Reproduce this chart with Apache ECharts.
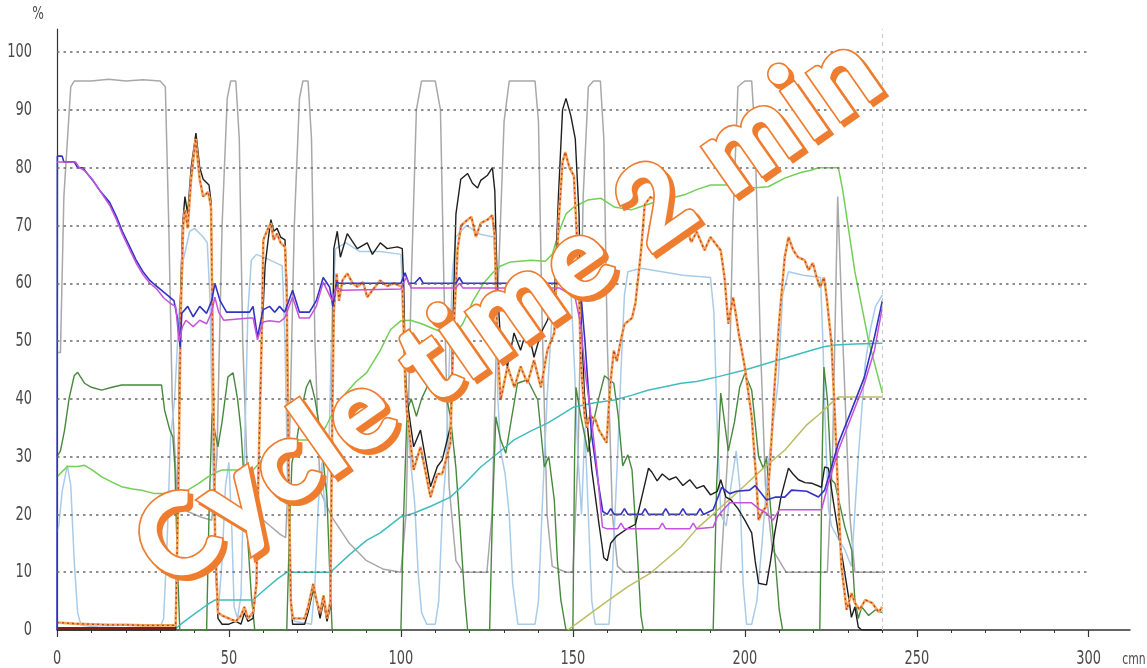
<!DOCTYPE html>
<html>
<head>
<meta charset="utf-8">
<script src="https://cdn.jsdelivr.net/npm/echarts@6/dist/echarts.min.js"></script>
<style>
  html, body { margin: 0; padding: 0; background: #fff; }
  #chart { width: 1147px; height: 668px; }
</style>
</head>
<body>
<div id="chart"></div>
<script>
// Axis ticks
const xTicks = [0, 50, 100, 150, 200, 250, 300];
const xMinorTicks = [10, 20, 30, 40, 60, 70, 80, 90, 110, 120, 130, 140, 160, 170, 180, 190, 210, 220, 230, 240, 260, 270, 280, 290];
const yTicks = [0, 10, 20, 30, 40, 50, 60, 70, 80, 90, 100];
const endMarker = 240;

// Trend series, [time, %]
const grayLine = [[0,48],[1,48],[2,75],[4,94],[5,95],[10,95],[15,95.3],[20,95],[25,95.2],[30,95],[31.5,94],[32.5,70],[33.5,40],[35,22],[38,20.5],[42,19.5],[45,19],[46.5,30],[48,70],[49.5,92],[50.5,95],[52,95],[53,85],[54,50],[55.5,24],[58,20],[62,18],[65,16.5],[66.5,16],[67.5,30],[69,70],[70.5,92],[71.5,95],[73,95],[74,85],[75,50],[76.5,24],[80,19.5],[85,15],[90,12],[95,10.5],[100,10],[101.5,20],[103,60],[104.5,90],[106,95],[110,95],[111.5,90],[112.5,60],[114,25],[116,12],[118,10],[125,10],[126.5,20],[128,55],[130,88],[131.5,95],[139,95],[140,88],[141,55],[142.5,20],[144,11],[148,10],[150,10],[151.5,30],[153,75],[154.5,94],[156,95],[158,95],[159,85],[160,50],[161.5,20],[163,11],[165,10],[193,10],[195,30],[196.5,70],[198,94],[200,95],[202,95],[203,85],[204.5,50],[206,25],[208,14],[212,10],[224,10],[225.5,30],[227,75],[228.5,50],[230.5,20],[232,10],[240,10]];

const lightBlueLine = [[0,17],[0.5,18],[1.5,24],[3,28.5],[4,25],[5,12],[6,3],[7,0.8],[12,0.5],[20,0.4],[30,0.5],[31,2],[32,15],[33,33],[34.2,40],[35.5,55],[36.7,64],[38.6,69],[40,69.5],[42.5,68],[43.7,67],[44.5,57],[45.3,30],[46.2,8],[47,4],[48,12],[49,25],[50,29],[50.8,18],[51.5,4],[52.5,2],[53.5,6],[54.5,30],[55.5,55],[56.5,64],[58,65],[62,64],[65.5,63],[66.3,50],[67.2,20],[68,5],[69,1.5],[74,1],[75,8],[76,22],[77,29],[78,20],[79,30],[80,55],[81,66],[84,67],[88,65.5],[94,65.5],[100,65],[100.8,55],[101.6,38],[103,28],[104,22],[105,10],[106,3],[107.5,1],[110,1],[111,5],[112,20],[113,28],[114,45],[115,62],[116,68],[119,70],[123,68.5],[127,68],[127.6,60],[128.2,40],[129,31],[130.3,27],[131.5,20],[132.5,8],[134,1],[139,1],[140,5],[141,20],[142.5,40],[144,55],[145.5,60],[148,61],[149.5,58],[150.5,45],[151.5,30],[152.5,20],[153.5,35],[154.5,20],[155.5,5],[156.5,1],[160.5,1],[161.5,10],[163,30],[164,45],[165,58],[166,62],[169.8,62.6],[182,61.4],[190,61],[191,55],[192,35],[193,20],[194.6,18],[196,25],[197.5,31],[198.5,25],[199.5,8],[200.5,1],[202,1],[203.5,5],[205,15],[206.7,28],[209.7,43],[211,58],[212.7,62],[217,61.4],[222,61],[222.7,50],[223.3,37],[224.3,21],[225.2,18],[227,16],[229,14],[231,11],[233,30],[235,46],[236.5,52],[238,56],[240,58]];

const darkGreenLine = [[0,30],[1,31],[2.2,34.6],[3.5,40],[5,44],[6,44.6],[8,42.7],[10,42],[13,41.5],[16,42],[18.8,42.4],[24,42.4],[30.4,42.4],[31.3,38],[32.8,34.6],[33.7,33.4],[34.3,28],[35,11.6],[35.7,0],[43.5,0],[44.2,20],[45.1,37.5],[46,34],[46.8,31.7],[48,36],[49.7,43.8],[51.2,44.5],[52.5,40],[53.5,34.6],[55,20],[56.5,6],[57.5,0],[66.8,0],[67.5,15],[68.3,28.9],[69.5,32],[71,38],[72.5,42],[73.6,43.3],[75,40],[76.5,34.6],[78.5,23],[79.3,10],[80,0],[100,0],[100.8,20],[101.8,38],[103,40],[104.5,37],[106,40],[108.6,43.3],[111.5,43.8],[113,41],[114.4,36.9],[116,28],[117.3,16.8],[118.5,6],[119.4,0],[125.8,0],[126.6,20],[127.6,36.9],[129,32.9],[130.5,30.6],[132,36],[133.9,42.7],[136.8,43.3],[139.8,39.8],[141.7,28.2],[143,30],[144.6,22.5],[145.5,12],[146.5,5.2],[148,0],[150,0],[150.5,30],[150.9,42],[152.3,37],[154.4,30.8],[156,36],[157.6,40.3],[159.2,44],[161.9,42.7],[163.2,37],[164.5,28.4],[166,30.3],[167.2,27.7],[168.7,13.8],[169.8,2.5],[170.5,0],[190.8,0],[191.8,25],[193,41],[195.2,31],[197,36],[198.5,42],[200,44.4],[202,41.5],[204,30],[205.4,28],[206.3,29.8],[207.7,19.6],[209,11],[210,3.5],[211,0],[221.8,0],[222.5,30],[223,45.5],[224,40],[225.2,26],[226.2,25.4],[229.1,17.8],[231.1,13.8],[232,5.2],[233,2],[234,4],[236,2.5],[238,3.5],[240,3]];

const lightGreenLine = [[0,26.5],[3,28.3],[6,28.3],[8,28.5],[10,27.8],[13,26.5],[16,25.6],[18.8,24.8],[22,24.4],[24.6,24.2],[28.4,23.6],[34.3,23.6],[36,23.8],[38,24.2],[41,25.3],[43.9,26.5],[46,27.2],[48,27.7],[53,27.7],[57,27.7],[59,29],[61,31],[64,32.4],[67,32.9],[72,32.9],[75.6,32.9],[78,35],[81,38.5],[84,41],[87,43],[90,44.5],[94,48.4],[97,52],[100,53.5],[102.8,53.6],[106,53],[110,52],[115,50.7],[118,53],[121,57],[124,60],[127,62],[129,63],[131.9,63.7],[137.8,64],[142,63.8],[144,65],[146,69],[148,72],[150.3,73.2],[154.3,74.4],[158.2,74.7],[162,73.2],[167,72.7],[171,73.5],[175.7,74.4],[179,74.8],[182.4,75.3],[186,76.2],[190,77],[197,77],[202,76.5],[206.8,76.7],[211.6,78.2],[216.5,79.2],[219,79.5],[221.4,80],[227.2,80],[228.5,76],[232,62],[236,50],[240,41]];

const tealLine = [[34,0],[36,1],[40,2.8],[44,4.5],[46,5.2],[57,5.2],[60,6.8],[64,8.8],[66.9,10],[79.5,10],[85,13],[90,15.5],[94,16.8],[99.8,19.5],[103.7,20.2],[109,21.5],[114.4,23],[118,25],[123.2,28.2],[128,30.5],[132.9,32.9],[138,34.5],[142.6,35.8],[146,37],[150.3,38.6],[156,39.3],[162,39.8],[167,40.6],[171.8,41.5],[176,42],[181.5,42.7],[186,43],[192,43.8],[200,45],[206.8,46.2],[213,47.3],[219.4,48.4],[223,49],[226.2,49.3],[232,49.5],[240,49.6]];

const oliveLine = [[148.5,0],[152,1.5],[160,5],[166,7.5],[172.7,9.9],[181.5,14.4],[186,17.5],[192.2,20.8],[200,25],[205,27.8],[211.6,31.1],[218,35.5],[222,37.5],[225.2,39.3],[227.2,40.3],[240,40.3]];

const blackLine = [[0,0],[34.5,0],[35.3,30],[35.8,55],[36.5,70],[37.2,75],[38,72],[39,80],[40.4,86],[41.5,80],[42.5,78],[44.2,77],[44.8,74],[45.3,50],[46,15],[46.8,2],[48,1],[50,1],[52,1.5],[53.5,1],[54.5,3],[55.5,1.5],[57,2],[58,8],[58.5,25],[59.5,50],[60.5,63],[61.5,68],[62.2,71],[63,69],[64,69.5],[65,68],[66.3,67.5],[66.8,60],[67.3,30],[68,5],[68.5,1],[72,1],[73,3],[74.5,7],[75.5,5],[76.5,2],[77.5,5],[78.5,1.5],[79.5,4],[80,40],[80.5,66],[81.5,69],[82.4,64.5],[84.4,68.6],[87.3,66],[90.2,67],[91.7,65],[94,67],[96,66],[99,66.3],[100.4,66],[100.8,60],[101.3,45],[101.8,39.8],[103.7,31.7],[105.7,34.6],[108.6,24.8],[110.6,28.3],[112,29.4],[114.4,35.2],[115.2,55],[116,72],[117.4,78],[119.4,79],[120.8,77.3],[122.3,76.5],[123.2,77.8],[125.2,78.7],[126.6,80],[127.3,76],[128,60],[129,49.6],[131,45.6],[132.9,51.4],[134.8,48.4],[136.8,52.5],[138.7,47.2],[140.7,51.4],[142.6,53.6],[144.6,57],[145.8,75],[147,90],[148,92],[149.4,89],[150.7,85],[151.8,71.8],[152.3,55],[153.4,40.3],[155.5,27.7],[157.6,18.3],[159,12.5],[160,12],[161,15],[162.8,16.3],[166,17.6],[168.2,18.3],[170.4,23.9],[172,28],[173,27.3],[174.5,25.8],[176,27],[178,26],[180,26.5],[182,25],[184,26],[186,24.5],[188,25],[190,23.4],[192,24],[193,26],[194.5,23],[196,22.5],[198,21],[200,19],[202,16.8],[203,12],[204,8.1],[206.3,7.8],[207.5,12],[208.7,16.8],[210.5,23],[212.7,28],[214,27],[215.6,26],[217.5,25.5],[219.4,25.4],[222.3,24.7],[223.2,28.2],[224.3,28],[225.8,22],[228,13.8],[230,6.4],[231,2.2],[232,4],[233,0.5],[234,0],[240,0]];

const orangeLine = [[0,1.3],[5,1.1],[10,1],[15,0.9],[20,0.9],[25,0.8],[30,0.8],[34.5,0.8],[35.3,25],[36,55],[36.7,70],[37.2,72.7],[38,69.5],[39,78],[40.3,85],[41.5,78],[42.5,75],[44,75.8],[44.8,73],[45.3,48],[46,15],[46.8,3],[48,2.5],[50,2],[52,1.5],[53.5,2.5],[54.5,4],[55.5,2],[57,3],[58,8],[58.5,25],[59.5,50],[60,67.5],[61,69],[62.2,70.4],[63,67.5],[64,68.6],[65,67],[66.3,66.3],[66.8,58],[67.3,28],[68,5],[68.5,2],[72,2],[73,4],[74.5,8],[75.5,5],[76.5,3],[77.5,6],[78.5,2],[79.5,5],[80,35],[80.5,55],[81.3,61.7],[82,57],[83,60.5],[84.4,61.7],[86,60],[87.3,59.4],[89,60.2],[90.2,57.6],[92,59],[94,60.5],[96,59.5],[98,60],[100.4,59.4],[100.8,52],[101.3,42],[101.8,37.5],[103.7,27.7],[105.7,31.7],[108.6,23],[110.6,27],[112,27],[114.4,32.3],[115.2,50],[116.5,66],[117.5,70],[119.4,71],[120.5,71.5],[121.8,68],[123.2,70.4],[125.2,71],[126.6,71.8],[127.3,68],[128,50],[129,39.8],[131,45.6],[133,42],[134.8,45.6],[136.8,42.7],[138.7,46.7],[140.7,42],[142.6,48.4],[144.6,51.4],[145.8,70],[147,81],[147.8,82.7],[149,80],[150.3,78.6],[151,70],[151.8,59],[152.3,46.5],[153.4,37.2],[154,35],[155,37],[156.5,36.5],[157.6,34.6],[159.8,32.4],[160.8,42],[161.9,48.4],[162.8,46.5],[164,50.3],[165,52.9],[167.2,54],[168.2,56.6],[169.8,65.4],[170.9,73.6],[172.5,74.9],[174.8,74.4],[176.5,73.2],[178.5,71.5],[179.5,69.2],[180.5,70.4],[181.5,68],[183,69.8],[184.4,67.1],[186,68.9],[188.3,65.7],[190,68],[192.2,66.3],[193,65.7],[194.1,61],[195.2,53],[196.6,57.6],[197.5,54.2],[198.4,50.7],[200,45.5],[202,36.9],[203.4,25.4],[204,19],[205.4,20.8],[206.3,21.3],[207.3,28.2],[208.7,42.7],[210.1,54.2],[211.6,64.5],[212.7,68],[214.1,65.7],[215.5,64.5],[217.4,64],[218.5,62.3],[219.8,63.5],[220.9,61],[221.9,59.3],[223,61],[223.8,57.6],[225.2,49.6],[226.2,36.9],[227.2,22.5],[228.1,10.9],[229.6,3.5],[231,6.4],[232,4.7],[233.4,3.5],[235,5.2],[237,4.7],[238.9,3.1],[240,4]];

const darkRedBase = [[0,0.3],[34.5,0.3]];

const blueLine = [[0,0],[0.1,82],[1.5,82],[2,81],[5,81],[6,80],[7.5,80],[8.8,79],[10.4,77.8],[12.5,76],[15.3,74],[17.3,71.5],[19,69],[21,66.5],[23,64],[25,62],[27,60.5],[28.5,59.7],[30,59],[32,58],[34,57],[35,54],[35.8,49],[36.3,54.8],[38,56],[39.6,54.2],[41.5,56],[43.5,54.8],[45,57],[45.9,60],[47.4,57],[49.3,55],[56,55],[57,56],[58.3,50.7],[59.9,55.4],[61.8,56],[63.3,55],[64.7,56],[66.2,55],[68.5,58.8],[70.5,55],[73.4,55],[75.4,57],[77.4,61],[79.3,59.3],[80.2,56],[81.3,60.2],[82,60],[100,60],[101.2,61.8],[102.3,60],[104,60],[105.5,61],[106.5,60],[116,60],[117,61],[118,60],[146,60],[147.5,61],[149,60],[150.5,60],[152.5,57],[153.5,50],[155.4,34],[157.5,25],[158.7,20.5],[160,20],[161,21],[162,20],[164,20],[165,21],[166,20],[170,20],[171,21],[172,20],[176,20],[177,21],[178,20],[181,20],[182,21],[183,20],[186,20],[187,21],[188,20],[190.8,20.8],[193.3,24.7],[195.6,23.6],[197.6,24],[201.4,24.2],[203,25],[206.3,22.5],[209,23],[211.6,23],[213.6,24.2],[218,24],[221.4,23],[223.2,24.2],[225.2,28.2],[227.2,32.3],[231,38],[234.8,43.8],[237.7,50.7],[240,57]];

const violetLine = [[0,81],[1.5,81],[5.4,81],[6.5,80],[8,79.5],[10.4,77.9],[12.5,76],[15.3,73.5],[17.3,71],[19,68.5],[21,66],[23,63.5],[25,61.5],[27,60],[29,59],[31,57.5],[33,56.5],[34.5,56],[35.5,50],[36.5,52.5],[37.5,53.6],[39.6,52.5],[41.5,53.6],[43.5,53],[45,55],[45.9,57.6],[47,55],[48.5,53.6],[56,54],[57,54],[58.3,50.2],[59.9,53.3],[61.8,53.5],[64.7,53.3],[66.2,54],[68.5,57.6],[70.5,54],[73.4,54],[75.4,56],[77.4,60.2],[80,57],[81.3,59.3],[83,58.8],[100,59],[101.5,61],[103,59.2],[116,59.2],[117,60],[118,59.2],[146,59.2],[148,58.5],[150.5,58],[152.3,52.8],[153.5,45],[155.5,36],[157,28],[158.6,17.8],[160,17.5],[163,17.5],[164,18.5],[165,17.5],[175,17.5],[176,18.5],[177,17.5],[184,17.5],[185,18.5],[186,17.5],[190.8,17.8],[192,19.6],[194,21],[195.6,22],[199,22],[202,22],[204,21],[206.3,20.2],[208.2,19],[210,20.8],[222.3,20.8],[224.3,25.4],[227.2,31.1],[231,36.9],[234.8,42.7],[237.7,48.4],[240,55.9]];

const chart = echarts.init(document.getElementById('chart'), null, { renderer: 'canvas' });

function trend(data, color, width, extra) {
  return Object.assign({
    type: 'line',
    data: data,
    showSymbol: false,
    symbol: 'none',
    silent: true,
    animation: false,
    lineStyle: { color: color, width: width }
  }, extra || {});
}

const gridLines = yTicks.filter(v => v > 0).map(v => [
  { coord: [0, v] }, { coord: [300, v] }
]);
gridLines.push([
  { coord: [endMarker, 0], lineStyle: { color: '#c9c9c9', type: [4, 4], width: 1 } },
  { coord: [endMarker, 104] }
]);

const option = {
  backgroundColor: '#ffffff',
  animation: false,
  grid: { left: 57, right: 17, top: 29, bottom: 38 },
  xAxis: [{
    type: 'value', min: 0, max: 312,
    axisLine: { lineStyle: { color: '#333', width: 1.5 } },
    axisTick: { show: true, customValues: xTicks, length: 7, lineStyle: { color: '#333', width: 1.2 } },
    axisLabel: { show: false },
    splitLine: { show: false }
  }, {
    type: 'value', min: 0, max: 312, position: 'bottom', offset: 0,
    axisLine: { show: false },
    axisTick: { show: true, customValues: xMinorTicks, length: 3, lineStyle: { color: '#333', width: 1 } },
    axisLabel: { show: false },
    splitLine: { show: false }
  }],
  yAxis: {
    type: 'value', min: 0, max: 104,
    axisLine: { show: true, lineStyle: { color: '#333', width: 1.2 } },
    axisTick: { show: false },
    axisLabel: { show: false },
    splitLine: { show: false }
  },
  series: [
    {
      type: 'line', data: [], silent: true, animation: false,
      markLine: {
        silent: true, symbol: 'none', animation: false,
        label: { show: false },
        lineStyle: { color: '#6a6a6a', type: [2.5, 4], width: 1.6 },
        data: gridLines
      }
    },
    trend(grayLine, '#a8a8a8', 1.5),
    trend(lightBlueLine, '#a9cbea', 1.5),
    trend(darkGreenLine, '#47893c', 1.4),
    trend(lightGreenLine, '#72cf55', 1.5),
    trend(tealLine, '#40bcbf', 1.5),
    trend(oliveLine, '#bcbc62', 1.5),
    trend(blackLine, '#1e1e1e', 1.4),
    trend(darkRedBase, '#8a1c12', 2.6),
    trend(orangeLine, '#f2a657', 2.6),
    trend(orangeLine, '#c0392b', 1.3, { lineStyle: { color: '#c0392b', width: 1.3, type: [2, 3] } }),
    trend(blueLine, '#3232c4', 1.6),
    trend(violetLine, '#c552dc', 1.5)
  ]
};

chart.setOption(option);

// Tick labels in a tall, narrow face
const labelFont = '"Liberation Sans Narrow", "DejaVu Sans Condensed", sans-serif';
const graphics = [];
xTicks.forEach(v => {
  const p = chart.convertToPixel({ xAxisIndex: 0, yAxisIndex: 0 }, [v, 0]);
  graphics.push({
    type: 'text', x: p[0], y: 659, scaleX: 0.72, silent: true, z: 10,
    style: { text: String(v), font: '20px ' + labelFont, fill: '#4a4a4a', align: 'center', verticalAlign: 'middle' }
  });
});
yTicks.forEach(v => {
  const p = chart.convertToPixel({ xAxisIndex: 0, yAxisIndex: 0 }, [0, v]);
  graphics.push({
    type: 'text', x: 32, y: p[1], scaleX: 0.72, silent: true, z: 10,
    style: { text: String(v), font: '20px ' + labelFont, fill: '#4a4a4a', align: 'right', verticalAlign: 'middle' }
  });
});
graphics.push({
  type: 'text', x: 38, y: 15, scaleX: 0.8, silent: true, z: 10,
  style: { text: '%', font: '17px ' + labelFont, fill: '#4a4a4a', align: 'center', verticalAlign: 'middle' }
});
graphics.push({
  type: 'text', x: 1134, y: 660, scaleX: 0.75, silent: true, z: 10,
  style: { text: 'cmn', font: '16px ' + labelFont, fill: '#4a4a4a', align: 'center', verticalAlign: 'middle' }
});

// Diagonal caption, set letter by letter with open tracking:
// orange drop edge, orange rim, white face
const capText = 'Cycle time 2 min';
const capFont = 'bold 110px Lato, "Open Sans", sans-serif';
const capRot = 35 * Math.PI / 180;
const capX = 507, capY = 310;
const capTrack = 4;
const measure = document.createElement('canvas').getContext('2d');
measure.font = capFont;
const glyphs = Array.from(capText);
const advances = glyphs.map(ch => measure.measureText(ch).width);
const capWidth = advances.reduce((a, b) => a + b, 0) + capTrack * (glyphs.length - 1);
const ux = Math.cos(capRot), uy = -Math.sin(capRot);
const layers = [
  { dx: 4, dy: 4, fill: '#ee7d2f', stroke: '#ee7d2f', lw: 6, z: 100 },
  { dx: 0, dy: 0, fill: '#ee7d2f', stroke: '#ee7d2f', lw: 6, z: 101 },
  { dx: 0, dy: 0, fill: '#ffffff', stroke: '#ffffff', lw: 2.6, z: 102 }
];
let along = -capWidth / 2;
glyphs.forEach((ch, i) => {
  const mid = along + advances[i] / 2;
  along += advances[i] + capTrack;
  if (ch === ' ') return;
  layers.forEach(L => {
    graphics.push({
      type: 'text', silent: true, z: L.z, rotation: capRot,
      x: capX + ux * mid + L.dx, y: capY + uy * mid + L.dy,
      style: { text: ch, font: capFont, fill: L.fill, stroke: L.stroke, lineWidth: L.lw,
               lineJoin: 'round', align: 'center', verticalAlign: 'middle' }
    });
  });
});

chart.setOption({ graphic: graphics });
</script>
</body>
</html>
